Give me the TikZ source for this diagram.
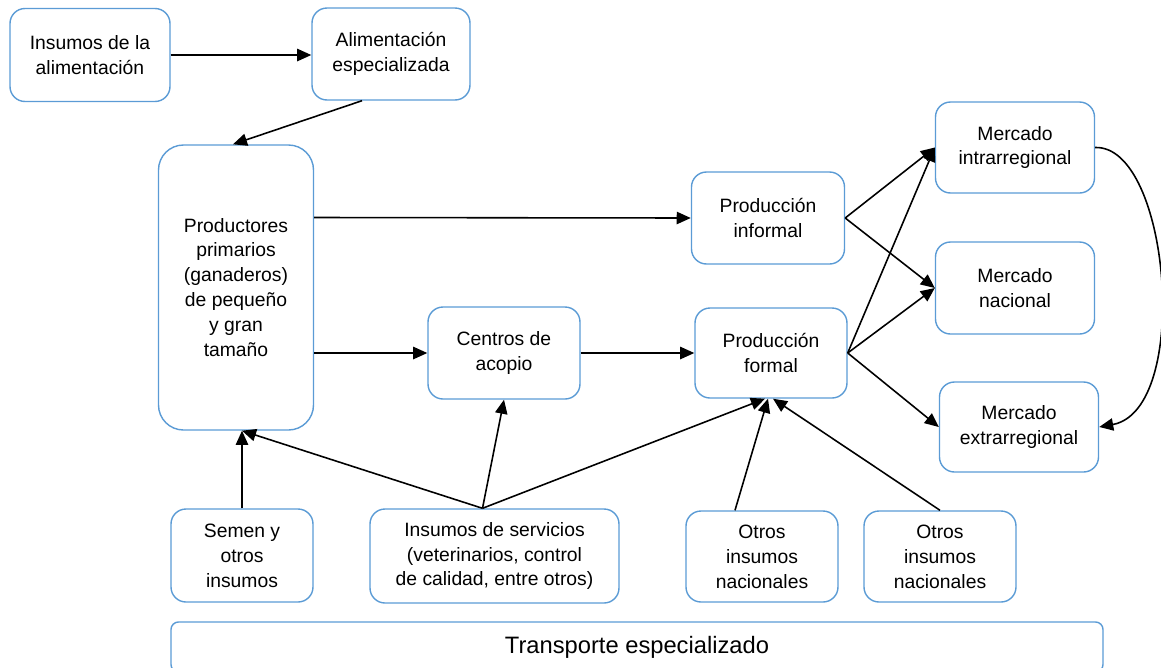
\documentclass[tikz,border=0pt]{standalone}
\usepackage{fontspec}
\setmainfont{Liberation Sans}
\usetikzlibrary{calc,arrows.meta}
\definecolor{boxblue}{RGB}{91,155,213}

\begin{document}
\begin{tikzpicture}[
    x=0.02cm,y=-0.02cm,
    stage box/.style={draw=boxblue,line width=0.8pt,rounded corners=0.3cm,align=center,inner sep=1pt,
      font=\fontsize{11}{14.2}\selectfont},
    box size/.style 2 args={minimum width=#1*0.02cm,minimum height=#2*0.02cm},
    flow/.style={-{Triangle[length=8pt,width=7pt]},line width=0.9pt},
  ]
  \useasboundingbox (0,0) rectangle (1161,667);

  % feed chain
  \node[stage box,box size={160}{93}] (alimins) at (90,55) {Insumos de la\\alimentación};
  \node[stage box,box size={158}{92}] (alimesp) at (391,54) {Alimentación\\especializada};
  \node[stage box,box size={155}{285},rounded corners=0.5cm] (productores) at (236,287.5)
    {Productores\\primarios\\(ganaderos)\\de pequeño\\y gran\\tamaño};

  % processing
  \node[stage box,box size={153}{92}] (prodinformal) at (768,218) {Producción\\informal};
  \node[stage box,box size={152}{92}] (acopio) at (504,353) {Centros de\\acopio};
  \node[stage box,box size={152}{90}] (prodformal) at (771,353) {Producción\\formal};

  % markets
  \node[stage box,box size={159}{91}] (mintra) at (1015,147.5) {Mercado\\intrarregional};
  \node[stage box,box size={159}{92}] (mnac) at (1015,288) {Mercado\\nacional};
  \node[stage box,box size={159}{90}] (mextra) at (1019,427) {Mercado\\extrarregional};

  % inputs
  \node[stage box,box size={142}{93}] (semen) at (242,555.5) {Semen y\\otros\\insumos};
  \node[stage box,box size={249}{94}] (servicios) at (494.5,556) {Insumos de servicios\\(veterinarios, control\\de calidad, entre otros)};
  \node[stage box,box size={152}{91}] (otros1) at (762,556.5) {Otros\\insumos\\nacionales};
  \node[stage box,box size={152}{91}] (otros2) at (940,556.5) {Otros\\insumos\\nacionales};
  \node[stage box,box size={932}{50},rounded corners=0.15cm,font=\fontsize{13.5}{16}\selectfont] (transporte) at (637,647)
    {Transporte especializado};

  \draw[flow] (alimins.east) -- (alimins.east -| alimesp.west);
  \draw[flow] ($ (alimesp.south) + (-29,0) $) -- ($ (productores.north) + (-3,0) $);
  \draw[flow] ($ (productores.east) + (0,-70) $) -- (prodinformal.west);
  \draw[flow] (productores.east |- acopio.west) -- (acopio.west);
  \draw[flow] (acopio.east) -- (prodformal.west);

  \foreach \m in {mintra,mnac} {
    \draw[flow] (prodinformal.east) -- (\m.west);
  }
  \foreach \m in {mintra,mnac,mextra} {
    \draw[flow] (prodformal.east) -- (\m.west);
  }
  \draw[flow] (mintra.east) .. controls (1170,145) and (1192,410) .. (mextra.east);

  \draw[flow] (semen.north) -- (semen.north |- productores.south);
  \coordinate (srv) at ($ (servicios.north) + (-12,0) $);
  \draw[flow] (srv) -- ($ (productores.south) + (6,0) $);
  \draw[flow] (srv) -- (acopio.south);
  \draw[flow] (srv) -- ($ (prodformal.south) + (-6,0) $);
  \draw[flow] ($ (otros1.north) + (-27,0) $) -- ($ (prodformal.south) + (-3,0) $);
  \draw[flow] (otros2.north) -- ($ (prodformal.south) + (2,0) $);

\end{tikzpicture}
\end{document}
